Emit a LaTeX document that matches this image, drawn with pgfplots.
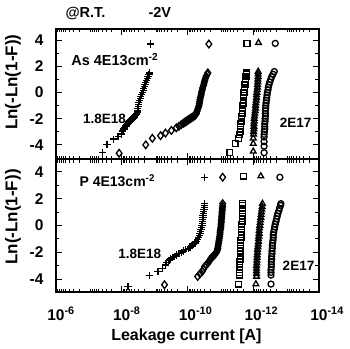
\documentclass[border=0pt]{standalone}
\usepackage{fontspec}
\setmainfont{Liberation Sans}
\usepackage{pgfplots}
\pgfplotsset{compat=1.18}

\tikzset{ann/.style={anchor=base west, font=\fontsize{13.5}{13.5}\selectfont\bfseries}}
\pgfplotsset{
  weib/.style={
    scale only axis, width=263pt,
    xmin=-14, xmax=-6, x dir=reverse,
    xtick={-14,-12,-10,-8,-6},
    minor xtick={-13.699,-13.523,-13.398,-13.301,-13.222,-13.155,-13.097,-13.046,
                 -12.699,-12.523,-12.398,-12.301,-12.222,-12.155,-12.097,-12.046,
                 -11.699,-11.523,-11.398,-11.301,-11.222,-11.155,-11.097,-11.046,
                 -10.699,-10.523,-10.398,-10.301,-10.222,-10.155,-10.097,-10.046,
                 -9.699,-9.523,-9.398,-9.301,-9.222,-9.155,-9.097,-9.046,
                 -8.699,-8.523,-8.398,-8.301,-8.222,-8.155,-8.097,-8.046,
                 -7.699,-7.523,-7.398,-7.301,-7.222,-7.155,-7.097,-7.046,
                 -6.699,-6.523,-6.398,-6.301,-6.222,-6.155,-6.097,-6.046},
    ytick={-4,-2,0,2,4},
    yticklabels={-4,-2,0,2,4},
    minor ytick={-5,-3,-1,1,3},
    tick align=inside,
    major tick length=6pt, minor tick length=3.5pt,
    every tick/.style={black, line width=0.9pt},
    axis line style={line width=1.1pt},
    tick label style={font=\fontsize{15.5}{15.5}\selectfont\bfseries},
    yticklabel style={xshift=-9pt},
    clip=false,
    ylabel={Ln(-Ln(1-F))},
    ylabel style={font=\fontsize{17}{17}\selectfont\bfseries, anchor=center},
  },
  pp/.style={only marks, black, line width=1.3pt, mark=+, mark size=3.6pt},
  pd/.style={only marks, black, line width=1.3pt, mark=diamond, mark size=3.8pt},
  ps/.style={only marks, black, line width=1.3pt, mark=square, mark size=2.9pt},
  pt/.style={only marks, black, line width=1.3pt, mark=triangle, mark size=3.3pt},
  pc/.style={only marks, black, line width=1.3pt, mark=o, mark size=3pt},
}

\begin{document}
\begin{tikzpicture}
\useasboundingbox (-56pt,29pt) rectangle (294pt,-319pt);

% ---------------- top panel (As) ----------------
\begin{axis}[weib, at={(0,0)}, anchor=north west, height=130pt,
  ymin=-5.08, ymax=4.85, xticklabels=\empty,
  ylabel style={at={(axis description cs:-0.1635,0.59)}}]
\addplot[pp] coordinates {
(-7.42,-4.6) (-7.55,-3.95) (-7.74,-3.56) (-7.89,-3.36) (-7.99,-3.18)
(-8.02,-3.0) (-8.03,-2.92) (-8.05,-2.85) (-8.07,-2.78) (-8.09,-2.7) (-8.11,-2.62) (-8.13,-2.55) (-8.15,-2.48) (-8.17,-2.4) (-8.20,-2.32) (-8.22,-2.25)
(-8.25,-2.18) (-8.28,-2.1) (-8.31,-2.02) (-8.34,-1.95) (-8.37,-1.88) (-8.40,-1.8) (-8.43,-1.72) (-8.45,-1.65) (-8.46,-1.58) (-8.47,-1.5) (-8.48,-1.35)
(-8.49,-1.2) (-8.50,-1.05) (-8.51,-0.9) (-8.52,-0.75) (-8.54,-0.6) (-8.56,-0.45)
(-8.58,-0.3) (-8.60,-0.15) (-8.63,0) (-8.65,0.15) (-8.67,0.3) (-8.69,0.45)
(-8.71,0.6) (-8.73,0.75) (-8.76,0.9) (-8.78,1.05) (-8.80,1.2) (-8.83,1.35) (-8.85,1.5)
(-8.87,3.7)};
\addplot[pd] coordinates {
(-7.92,-4.64) (-8.73,-4.0) (-8.93,-3.5) (-9.18,-3.3) (-9.33,-3.1) (-9.51,-2.9)
(-9.66,-2.7) (-9.74,-2.58) (-9.81,-2.45)
(-9.87,-2.35) (-9.90,-2.3) (-9.93,-2.25) (-9.96,-2.2) (-9.99,-2.15) (-10.02,-2.1) (-10.05,-2.05) (-10.08,-2.0) (-10.11,-1.95) (-10.14,-1.9) (-10.17,-1.85)
(-10.20,-1.8) (-10.23,-1.75) (-10.25,-1.68) (-10.27,-1.6) (-10.29,-1.45) (-10.31,-1.3) (-10.33,-1.15) (-10.35,-1.0)
(-10.36,-0.85) (-10.37,-0.7) (-10.38,-0.55) (-10.39,-0.4) (-10.41,-0.25) (-10.42,-0.1)
(-10.43,0.05) (-10.45,0.2) (-10.46,0.35) (-10.48,0.5) (-10.50,0.65) (-10.51,0.8)
(-10.53,0.95) (-10.55,1.1) (-10.57,1.25) (-10.60,1.4) (-10.62,1.5)
(-10.65,3.7)};
\addplot[ps] coordinates {
(-11.29,-4.6) (-11.45,-3.9) (-11.55,-3.5) (-11.58,-3.2)
(-11.60,-3.0) (-11.61,-2.8) (-11.62,-2.6) (-11.62,-2.4) (-11.63,-2.2) (-11.64,-2.0)
(-11.65,-1.8) (-11.66,-1.6) (-11.67,-1.4) (-11.67,-1.2) (-11.68,-1.0) (-11.69,-0.8)
(-11.70,-0.6) (-11.71,-0.4) (-11.71,-0.2) (-11.72,0.0) (-11.73,0.2) (-11.74,0.4)
(-11.75,0.6) (-11.76,0.8) (-11.77,1.0) (-11.78,1.2) (-11.79,1.4) (-11.80,1.5)
(-11.81,3.75)};
\addplot[pt] coordinates {
(-12.00,-4.5) (-12.00,-3.9) (-12.00,-3.5) (-12.01,-3.2)
(-12.01,-3.0) (-12.02,-2.8) (-12.02,-2.6) (-12.02,-2.4) (-12.03,-2.2) (-12.03,-2.0)
(-12.04,-1.8) (-12.05,-1.6) (-12.06,-1.4) (-12.07,-1.2) (-12.07,-1.0) (-12.08,-0.8)
(-12.09,-0.6) (-12.10,-0.4) (-12.10,-0.2) (-12.11,0.0) (-12.12,0.2) (-12.13,0.4)
(-12.13,0.6) (-12.14,0.8) (-12.14,1.0) (-12.15,1.2) (-12.15,1.4) (-12.15,1.6)
(-12.16,3.8)};
\addplot[pc] coordinates {
(-12.33,-4.6) (-12.33,-4.1) (-12.33,-3.75) (-12.33,-3.4) (-12.33,-3.2)
(-12.34,-3.0) (-12.35,-2.8) (-12.35,-2.6) (-12.35,-2.4) (-12.36,-2.2) (-12.36,-2.0)
(-12.37,-1.8) (-12.37,-1.6) (-12.37,-1.4) (-12.38,-1.2) (-12.38,-1.0) (-12.39,-0.8)
(-12.40,-0.6) (-12.41,-0.4) (-12.42,-0.2) (-12.43,0.0) (-12.45,0.2) (-12.46,0.4)
(-12.48,0.6) (-12.50,0.8) (-12.53,1.0) (-12.56,1.2) (-12.60,1.4) (-12.64,1.6)
(-12.67,3.75)};
\node[ann, font=\fontsize{14.5}{14.5}\selectfont\bfseries] at (axis cs:-6.36,2.05) {As 4E13cm\textsuperscript{-2}};
\node[ann] at (axis cs:-6.72,-2.35) {1.8E18};
\node[ann] at (axis cs:-12.70,-2.65) {2E17};
\end{axis}

% ---------------- bottom panel (P) ----------------
\begin{axis}[weib, at={(0,-130pt)}, anchor=north west, height=133pt,
  ymin=-4.96, ymax=4.96,
  xticklabels={\phantom{\textsuperscript{-14}}10\textsuperscript{-14},
               \phantom{\textsuperscript{-12}}10\textsuperscript{-12},
               \phantom{\textsuperscript{-10}}10\textsuperscript{-10},
               \phantom{\textsuperscript{-8}}10\textsuperscript{-8},
               \phantom{\textsuperscript{-6}}10\textsuperscript{-6}},
  xticklabel style={anchor=base, yshift=-28pt},
  xlabel={Leakage current [A]},
  xlabel style={font=\fontsize{16}{16}\selectfont\bfseries, at={(axis description cs:0.496,0)}, anchor=center, yshift=-44pt},
  ylabel style={at={(axis description cs:-0.1635,0.564)}}]
\addplot[pp] coordinates {
(-8.19,-4.54) (-8.85,-3.73) (-9.10,-3.43) (-9.23,-3.19) (-9.33,-2.94) (-9.37,-2.74)
(-9.44,-2.6) (-9.49,-2.5) (-9.54,-2.4) (-9.60,-2.3) (-9.66,-2.2) (-9.74,-2.1)
(-9.81,-2.0) (-9.88,-1.9) (-9.95,-1.8) (-10.02,-1.7) (-10.08,-1.6) (-10.14,-1.5)
(-10.19,-1.4) (-10.23,-1.3) (-10.26,-1.2) (-10.30,-1.05) (-10.33,-0.9) (-10.36,-0.75)
(-10.38,-0.6) (-10.40,-0.45) (-10.41,-0.3) (-10.42,-0.15) (-10.44,0.0) (-10.45,0.15)
(-10.45,0.3) (-10.46,0.45) (-10.47,0.6) (-10.47,0.75) (-10.48,0.9) (-10.49,1.05)
(-10.50,1.2) (-10.51,1.35) (-10.51,1.5) (-10.52,1.63)
(-10.52,3.6)};
\addplot[pd] coordinates {
(-9.30,-4.42)
(-10.31,-3.8) (-10.38,-3.6) (-10.45,-3.43) (-10.49,-3.25) (-10.52,-3.06) (-10.57,-2.95)
(-10.62,-2.81) (-10.65,-2.7) (-10.68,-2.6) (-10.70,-2.5) (-10.73,-2.4) (-10.77,-2.3)
(-10.82,-2.2) (-10.85,-2.1) (-10.88,-2.0) (-10.90,-1.9) (-10.91,-1.8) (-10.92,-1.7)
(-10.93,-1.55) (-10.94,-1.4) (-10.95,-1.25) (-10.96,-1.1) (-10.97,-0.95) (-10.98,-0.8)
(-10.99,-0.65) (-10.99,-0.5) (-11.00,-0.35) (-11.01,-0.2) (-11.02,-0.05) (-11.02,0.1)
(-11.03,0.25) (-11.03,0.4) (-11.04,0.55) (-11.04,0.7) (-11.05,0.85) (-11.05,1.0)
(-11.06,1.15) (-11.06,1.3) (-11.07,1.45) (-11.07,1.63)
(-11.07,3.6)};
\addplot[ps] coordinates {
(-11.55,-4.37)
(-11.58,-3.7) (-11.58,-3.5) (-11.58,-3.3) (-11.59,-3.1) (-11.59,-2.9) (-11.59,-2.7)
(-11.60,-2.5) (-11.60,-2.3) (-11.60,-2.1) (-11.60,-1.9) (-11.61,-1.7) (-11.61,-1.5)
(-11.62,-1.3) (-11.62,-1.1) (-11.63,-0.9) (-11.63,-0.7) (-11.64,-0.5) (-11.64,-0.3)
(-11.65,-0.1) (-11.65,0.1) (-11.66,0.3) (-11.66,0.5) (-11.67,0.7) (-11.67,0.9)
(-11.67,1.1) (-11.68,1.3) (-11.68,1.5) (-11.68,1.63)
(-11.70,3.68)};
\addplot[pt] coordinates {
(-12.08,-4.37)
(-12.10,-3.8) (-12.10,-3.6) (-12.10,-3.4) (-12.10,-3.2) (-12.10,-3.0) (-12.11,-2.8)
(-12.11,-2.6) (-12.12,-2.4) (-12.12,-2.2) (-12.13,-2.0) (-12.13,-1.8) (-12.14,-1.6)
(-12.15,-1.4) (-12.16,-1.2) (-12.16,-1.0) (-12.17,-0.8) (-12.18,-0.6) (-12.18,-0.4)
(-12.19,-0.2) (-12.20,0.0) (-12.21,0.2) (-12.22,0.4) (-12.23,0.6) (-12.24,0.8)
(-12.25,1.0) (-12.26,1.2) (-12.27,1.4) (-12.28,1.63)
(-12.23,3.68)};
\addplot[pc] coordinates {
(-12.54,-4.37)
(-12.54,-3.7) (-12.54,-3.5) (-12.54,-3.3) (-12.55,-3.1) (-12.55,-2.9) (-12.55,-2.7)
(-12.56,-2.5) (-12.56,-2.3) (-12.57,-2.1) (-12.57,-1.9) (-12.58,-1.7) (-12.58,-1.5)
(-12.59,-1.3) (-12.60,-1.1) (-12.61,-0.9) (-12.61,-0.7) (-12.62,-0.5) (-12.64,-0.3)
(-12.65,-0.1) (-12.67,0.1) (-12.69,0.3) (-12.71,0.5) (-12.73,0.7) (-12.75,0.9)
(-12.78,1.1) (-12.80,1.3) (-12.83,1.5) (-12.84,1.63)
(-12.81,3.6)};
\node[ann, font=\fontsize{14}{14}\selectfont\bfseries] at (axis cs:-6.61,2.89) {P 4E13cm\textsuperscript{-2}};
\node[ann] at (axis cs:-7.79,-2.44) {1.8E18};
\node[ann] at (axis cs:-12.79,-3.33) {2E17};
\end{axis}

% title
\node[anchor=base west, font=\fontsize{14.5}{14.5}\selectfont\bfseries] at (6pt,12pt) {@R.T.};
\node[anchor=base west, font=\fontsize{14.5}{14.5}\selectfont\bfseries] at (89pt,12pt) {-2V};
\end{tikzpicture}
\end{document}
